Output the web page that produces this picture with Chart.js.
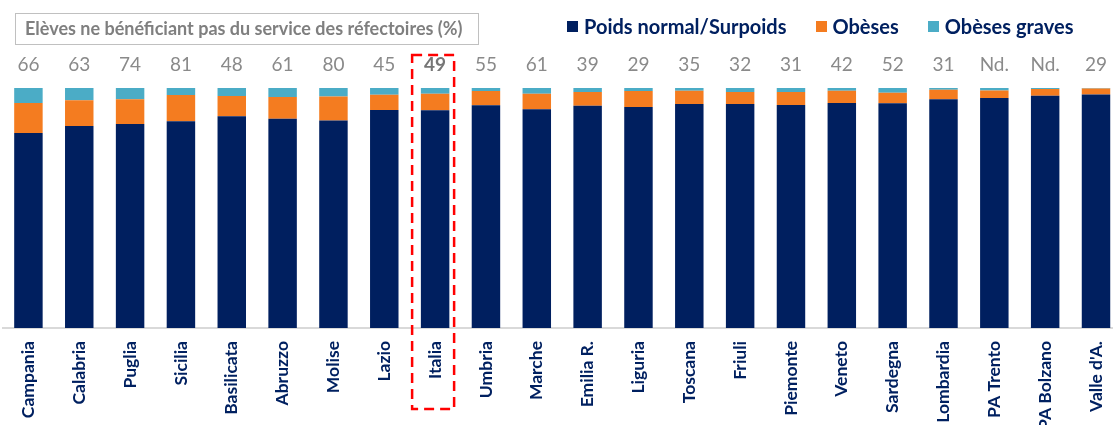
<!DOCTYPE html>
<html>
<head>
<meta charset="utf-8">
<script src="https://cdn.jsdelivr.net/npm/chart.js@4.4.1/dist/chart.umd.min.js"></script>
<style>
html,body{margin:0;padding:0;background:#fff;overflow:hidden;width:1113px;height:425px;}
#wrap{position:absolute;left:0;top:0;width:1130px;height:425px;}
#title{position:absolute;left:15px;top:13px;width:464px;height:32px;border:1.5px solid #c0c0c0;box-sizing:border-box;font:bold 18px Lato, sans-serif;color:#7f7f7f;padding-left:9px;line-height:28px;white-space:nowrap;}
#legend{position:absolute;top:14px;left:567px;font:bold 20px Lato, sans-serif;color:#002060;display:flex;align-items:center;white-space:nowrap;}
#legend .item{display:flex;align-items:center;margin-right:29px;}
#legend .sw{width:11px;height:11px;margin-right:6px;}
</style>
</head>
<body>
<div id="wrap"><canvas id="c"></canvas></div>
<div id="title">Elèves ne bénéficiant pas du service des réfectoires (%)</div>
<div id="legend"></div>
<script>
const categories = ['Campania','Calabria','Puglia','Sicilia','Basilicata','Abruzzo','Molise','Lazio','Italia','Umbria','Marche','Emilia R.','Liguria','Toscana','Friuli','Piemonte','Veneto','Sardegna','Lombardia','PA Trento','PA Bolzano',"Valle d'A."];
const normalSurpoids = [81.3,84.2,85.0,86.1,88.2,87.2,86.5,90.8,90.7,92.8,91.1,92.6,92.1,93.3,93.3,92.9,93.8,93.6,95.3,95.8,96.8,97.3];
const obeses        = [12.5,10.7,10.3,11.0, 8.5, 9.0,10.0, 6.4, 6.9, 6.0, 6.5, 5.7, 6.7, 5.6, 5.0, 5.4, 5.1, 4.4, 4.0, 3.2, 2.8, 2.5];
const obesesGraves  = [ 6.2, 5.1, 4.7, 2.9, 3.3, 3.8, 3.5, 2.8, 2.4, 1.2, 2.4, 1.7, 1.2, 1.1, 1.7, 1.7, 1.1, 2.0, 0.7, 1.0, 0.4, 0.2];
const nonRefectoire = ['66','63','74','81','48','61','80','45','49','55','61','39','29','35','32','31','42','52','31','Nd.','Nd.','29'];
const highlightCategory = 'Italia';
const seriesNames = ['Poids normal/Surpoids','Obèses','Obèses graves'];
const seriesColors = ['#001f5f','#f47c20','#4bacc6'];

// HTML legend
const lg = document.getElementById('legend');
seriesNames.forEach((n,i)=>{
  const it = document.createElement('div'); it.className='item';
  const sw = document.createElement('div'); sw.className='sw'; sw.style.background=seriesColors[i];
  const tx = document.createElement('span'); tx.textContent=n;
  it.appendChild(sw); it.appendChild(tx); lg.appendChild(it);
});

const topLabels = {
  id:'topLabels',
  afterDraw(chart){
    const ctx = chart.ctx, xs = chart.scales.x, ca = chart.chartArea;
    ctx.save();
    ctx.textAlign='center'; ctx.textBaseline='middle';
    nonRefectoire.forEach((v,i)=>{
      const x = xs.getPixelForValue(i);
      const hl = categories[i]===highlightCategory;
      ctx.font = (hl?'bold ':'')+'19px Lato, sans-serif';
      ctx.fillStyle = hl ? '#767676' : '#8a8a8a';
      ctx.fillText(v, x, ca.top-23);
    });
    // highlight box
    const hi = categories.indexOf(highlightCategory);
    const cx = xs.getPixelForValue(hi);
    ctx.strokeStyle='#ff0000'; ctx.lineWidth=2.5; ctx.setLineDash([10,6]);
    ctx.strokeRect(cx-23, ca.top-33, 42, (ca.bottom+81)-(ca.top-33));
    ctx.restore();
  }
};

new Chart(document.getElementById('c'), {
  type:'bar',
  data:{
    labels:categories,
    datasets:[
      {label:seriesNames[0], data:normalSurpoids, backgroundColor:seriesColors[0]},
      {label:seriesNames[1], data:obeses, backgroundColor:seriesColors[1]},
      {label:seriesNames[2], data:obesesGraves, backgroundColor:seriesColors[2]}
    ]
  },
  options:{
    responsive:true, maintainAspectRatio:false, animation:false,
    layout:{padding:{top:88,left:3,right:0,bottom:0}},
    datasets:{bar:{barPercentage:0.56, categoryPercentage:1, borderWidth:0}},
    plugins:{legend:{display:false}, tooltip:{enabled:false}, title:{display:false}},
    scales:{
      x:{stacked:true,
        grid:{display:false, drawTicks:false},
        border:{display:true,color:'#d9d9d9',width:2},
        ticks:{color:'#002060', font:{family:'Lato, sans-serif', size:17.5, weight:'bold'}, maxRotation:90, minRotation:90, padding:13, autoSkip:false},
        afterFit(s){ s.height = 97; }
      },
      y:{stacked:true, display:false, min:0, max:100}
    }
  },
  plugins:[topLabels]
});
</script>
</body>
</html>
